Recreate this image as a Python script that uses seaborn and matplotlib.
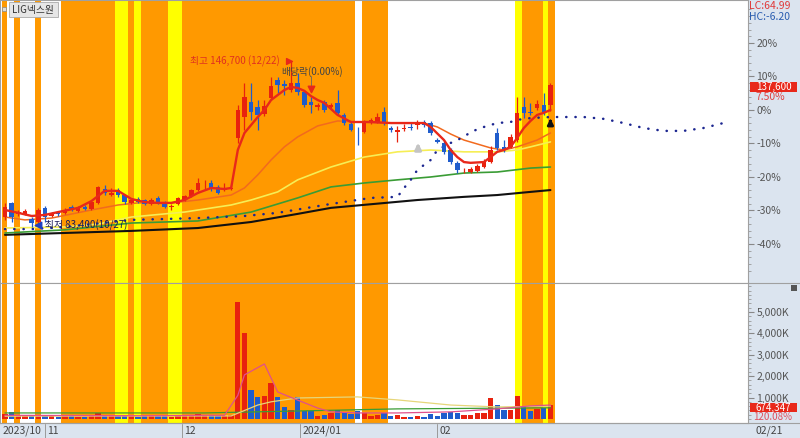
import numpy as np
import pandas as pd
import matplotlib
matplotlib.use("Agg")
import matplotlib.pyplot as plt
import seaborn as sns
from matplotlib.patches import Rectangle
from matplotlib.lines import Line2D
from matplotlib.transforms import blended_transform_factory

sns.set_style("white")
plt.rcParams["font.family"] = ["Noto Sans CJK KR", "DejaVu Sans"]
plt.rcParams["axes.unicode_minus"] = False

# daily candles, LIG넥스원 2023/10 ~ 2024/02/21
opens = [87100, 92500, 88300, 88300, 86400, 85200, 90600, 87500, 88700, 88700,
         90900, 89400, 90900, 90200, 92500, 97800, 95500, 97400, 95500, 92500,
         94000, 93600, 92100, 94400, 92800, 91100, 92100, 93600, 95100, 97400,
         99200, 100100, 98600, 97400, 97800, 117300, 125300, 131000, 129100, 126500,
         132600, 139500, 137900, 135600, 138300, 134900, 131000, 129100, 131000, 129100,
         130700, 126100, 122700, 120500, 119600, 123000, 123400, 127200, 121100, 119600,
         120900, 121500, 122300, 123400, 123000, 116500, 115400, 112700, 107800, 104500,
         104300, 104700, 106200, 108100, 119200, 113900, 113900, 116500, 129100, 127200,
         128800, 129900, 129900]
highs = [92500, 92800, 89800, 90200, 87100, 90600, 91300, 89000, 89400, 90600,
         91700, 91300, 91700, 93600, 99000, 99400, 98200, 98200, 95900, 94400,
         94800, 94000, 94400, 95100, 93200, 92100, 94800, 95500, 97800, 102000,
         101300, 101300, 99400, 100100, 99400, 129900, 138300, 138300, 131800, 131800,
         140600, 140600, 139500, 146700, 142100, 135600, 133000, 130700, 131800, 130700,
         135600, 126900, 123400, 121500, 124200, 124900, 126900, 129100, 121900, 121900,
         122700, 123000, 124200, 124200, 123800, 117300, 116200, 113500, 108500, 105800,
         106200, 107400, 109300, 114200, 121100, 116500, 118800, 133000, 133000, 130700,
         131800, 134500, 138300]
lows = [86000, 85200, 87500, 87900, 83400, 84800, 85200, 87100, 87500, 88300,
        89400, 89000, 89800, 89800, 92100, 95500, 95100, 94800, 92100, 92100,
        92500, 91700, 91700, 92100, 90600, 89800, 91700, 93200, 94800, 97100,
        97800, 97100, 95900, 97100, 97400, 115400, 120400, 124200, 120400, 125700,
        131800, 134500, 133700, 134900, 133700, 129100, 126900, 128000, 127200, 128800,
        126100, 122300, 120000, 114600, 119200, 122700, 123000, 122300, 119600, 115800,
        120000, 120400, 120700, 121500, 118500, 115400, 111200, 107400, 104000, 104000,
        104000, 104300, 105800, 107800, 112700, 112000, 113500, 115800, 124900, 126100,
        128000, 126100, 127600]
closes = [90900, 87100, 89000, 89400, 84800, 89800, 87100, 88300, 88100, 89800,
          89800, 90600, 90200, 92800, 98600, 96300, 96300, 95500, 92800, 93600,
          92800, 92100, 93600, 92500, 90900, 91300, 94400, 95100, 97400, 100100,
          99400, 97800, 96300, 97800, 98200, 128000, 133000, 127200, 126100, 129500,
          137200, 137600, 137200, 138300, 134900, 129900, 129900, 129900, 128000, 129900,
          126900, 123000, 120400, 120200, 123400, 124200, 125300, 123000, 120400, 120400,
          121100, 121100, 123400, 122300, 119200, 115800, 112000, 108100, 105100, 104700,
          105500, 106600, 108100, 112700, 113500, 112700, 117700, 126900, 126900, 127000,
          130300, 127200, 137600]
# volume, thousand shares
volumes = [250, 330, 150, 120, 180, 200, 160, 120, 110, 130,
           120, 100, 110, 170, 260, 200, 150, 140, 160, 120,
           110, 130, 140, 120, 150, 100, 160, 170, 190, 230,
           150, 170, 140, 120, 180, 5470, 4020, 1350, 1030, 1075,
           1680, 1030, 560, 420, 1030, 375, 375, 150, 200, 300,
           420, 300, 250, 350, 260, 150, 200, 280, 120, 180,
           100, 90, 150, 110, 220, 160, 280, 310, 260, 180,
           200, 260, 300, 980, 650, 400, 420, 1080, 620, 380,
           460, 520, 674.347]

# moving average / indicator lines (candle index, price)
ma_red_idx = [0, 2, 4, 6, 8, 11, 13, 15, 17, 19, 21, 23, 25, 27, 29, 31, 33, 34, 35, 36,
              38, 39, 40, 41, 42, 43, 44, 45, 46, 47, 48, 50, 52, 55, 58, 61, 63, 64, 66, 67,
              68, 69, 70, 72, 73, 74, 75, 76, 77, 78, 79, 80, 81, 82]
ma_red_val = [89800, 88700, 87500, 87900, 89000, 90600, 93200, 97100, 97100, 94000,
              92800, 92500, 92500, 93600, 96300, 98200, 97800, 98200, 112700, 119200,
              125300, 128000, 131800, 133700, 135600, 136800, 136400, 135300, 133300, 131800,
              130700, 126100, 123400, 123400, 123000, 123000, 123000, 121500, 116500, 112700,
              110000, 108100, 107800, 108100, 110000, 112000, 112700, 113900, 117300, 121100,
              123800, 126100, 126900, 128000]
ma_orange_idx = [0, 3, 7, 13, 17, 20, 25, 29, 34, 36, 38, 40, 42, 44, 47, 50, 53, 57, 63, 65,
                 67, 69, 71, 73, 75, 77, 80, 82]
ma_orange_val = [87100, 86000, 86700, 89800, 91700, 92500, 92500, 93600, 95500, 98200,
                 103200, 108900, 113900, 117700, 121900, 123800, 123400, 123000, 123000, 121500,
                 118800, 116500, 115000, 113500, 112700, 113900, 116500, 119200]
ma_yellow_idx = [0, 9, 14, 19, 27, 34, 37, 41, 44, 49, 54, 59, 64, 69, 74, 77, 79, 82]
ma_yellow_val = [82900, 83300, 84400, 87100, 89000, 91700, 93600, 96700, 101300, 106200,
                 110000, 112000, 112700, 112000, 112000, 112700, 113900, 115800]
ma_green_idx = [0, 9, 19, 29, 37, 44, 49, 54, 59, 64, 69, 74, 79, 82]
ma_green_val = [81000, 82200, 84800, 85600, 89000, 94400, 98600, 100100, 101300, 102400,
                103900, 104300, 105800, 106200]
ma_black_idx = [0, 19, 29, 37, 44, 49, 62, 69, 74, 79, 82]
ma_black_val = [80300, 81800, 82900, 85200, 88300, 90600, 93600, 94800, 95500, 96700, 97400]
dots_idx = [0, 4, 9, 19, 29, 36, 41, 49, 55, 59, 60, 61, 62, 64, 65, 67, 69, 70, 72, 74,
            76, 77, 79, 82, 84, 87, 90, 93, 96, 99, 102, 105, 108]
dots_val = [82500, 82500, 83300, 86000, 86700, 87500, 88700, 92100, 94400, 94800,
            98200, 101300, 105100, 108900, 112700, 115400, 117700, 119600, 121500, 123000,
            123400, 124200, 124900, 125300, 125300, 125300, 124600, 123000, 121100, 120000,
            120000, 121100, 123000]

# volume averages (candle index, thousand shares)
vma_pink_idx = [0, 10, 20, 30, 33, 35, 36, 39, 41, 44, 47, 49, 53, 59, 67, 74, 79, 82]
vma_pink_val = [170, 160, 150, 170, 170, 1100, 2060, 2570, 1260, 880, 510, 330, 280, 280,
                330, 470, 610, 650]
vma_yellow_idx = [0, 34, 38, 40, 44, 53, 59, 67, 74, 82]
vma_yellow_val = [130, 140, 650, 800, 980, 1030, 890, 650, 560, 600]
vma_green_idx = [0, 30, 59, 82]
vma_green_val = [280, 280, 470, 520]

# highlighted signal periods (candle index span, kind)
bands = [(-0.5, 0.3, "o"), (1.4, 2.3, "o"), (4.5, 5.4, "o"), (8.4, 16.5, "o"),
         (16.5, 18.5, "y"), (18.5, 19.4, "o"), (19.4, 20.5, "y"), (20.5, 24.5, "o"),
         (24.5, 26.6, "y"), (26.6, 52.6, "o"), (53.7, 57.6, "o"), (76.7, 77.7, "y"),
         (77.7, 80.9, "o"), (80.9, 81.6, "y"), (81.6, 82.7, "o")]

month_labels = ["2023/10", "11", "12", "2024/01", "02"]
month_pos = [-0.75, 6.0, 26.6, 44.4, 65.0]
pct_ticks = [20, 10, 0, -10, -20, -30, -40]
vol_ticks = [1000, 2000, 3000, 4000, 5000]
base_price = 128000

RED = "#e8220e"
BLUE = "#1f5ccc"
GRID = "#a0a0a0"

W, H = 800, 438


def fx(p):
    return p / W


def fy(p):
    return 1 - p / H


fig = plt.figure(figsize=(8, 4.38), dpi=100)
fig.patch.set_facecolor("#dbe4ef")
ax = fig.add_axes([0, fy(283), fx(748), 283 / H])
axv = fig.add_axes([0, fy(423), fx(748), 140 / H])

band_colors = {"o": "#ff9900", "y": "#ffff00"}
for a in (ax, axv):
    a.set_facecolor("white")
    for s, e, k in bands:
        a.axvspan(s, e, color=band_colors[k], lw=0, zorder=0)

x = np.arange(len(closes))
o = np.array(opens)
c = np.array(closes)
up = c >= o
cols = np.where(up, RED, BLUE)

# indicator lines
sns.lineplot(x=ma_black_idx, y=ma_black_val, ax=ax, color="#111111", lw=1.5, zorder=2)
sns.lineplot(x=ma_green_idx, y=ma_green_val, ax=ax, color="#3a9c35", lw=1.2, zorder=2)
sns.lineplot(x=ma_yellow_idx, y=ma_yellow_val, ax=ax, color="#f6ee55", lw=1.2, zorder=2)
sns.lineplot(x=ma_orange_idx, y=ma_orange_val, ax=ax, color="#f26a1e", lw=1.1, zorder=2)
ax.plot(dots_idx, dots_val, color="#1c2690", lw=1.8, linestyle=(0, (0.1, 3.6)),
        dash_capstyle="round", zorder=2)

# candles
ax.vlines(x, lows, highs, colors=cols, lw=0.9, zorder=4)
ax.bar(x, np.maximum(np.abs(c - o), 300), bottom=np.minimum(o, c), width=0.68,
       color=cols, linewidth=0, zorder=5)
sns.lineplot(x=ma_red_idx, y=ma_red_val, ax=ax, color="#e8281a", lw=1.7, zorder=6)

# annotations
ax.text(41.3, 146700, "최고 146,700 (12/22)", color="#e03020", fontsize=7,
        ha="right", va="center", zorder=7)
ax.scatter([42.7], [146700], marker=">", s=18, color="#e8281a", zorder=7)
ax.text(41.5, 142600, "배당락(0.00%)", color="#444444", fontsize=7, ha="left",
        va="center", zorder=7)
ax.plot([46, 46], [140800, 136600], color="#666666", lw=0.6, zorder=7)
ax.scatter([46], [136000], marker="v", s=22, color="#e8281a", zorder=7)
ax.scatter([5.0], [84100], marker="<", s=22, color="#2040c0", zorder=7)
ax.text(6.0, 84100, "최저 83,400(10/27)", color="#1a1a5a", fontsize=7, ha="left",
        va="center", zorder=7)
ax.annotate("", xy=(62.1, 116500), xytext=(62.1, 112500),
            arrowprops=dict(arrowstyle="-|>", color="#c4c4c4", lw=2.2, mutation_scale=9),
            zorder=7)
ax.annotate("", xy=(82, 125800), xytext=(82, 122200),
            arrowprops=dict(arrowstyle="-|>", color="#111111", lw=2.0, mutation_scale=8),
            zorder=7)

ax.set_ylim(61900, 170000)
ax.yaxis.tick_right()
ax.set_yticks([base_price * (1 + p / 100) for p in pct_ticks])
ax.set_yticklabels([f"{p}%" for p in pct_ticks])
ax.set_yticks([base_price * (1 + k / 100) for k in range(-48, 32, 2)], minor=True)

# volume
vol_df = pd.DataFrame({"idx": x, "vol": volumes, "dir": np.where(up, "up", "down")})
sns.barplot(data=vol_df, x="idx", y="vol", hue="dir", palette={"up": RED, "down": BLUE},
            native_scale=True, dodge=False, width=0.8, errorbar=None, saturation=1,
            legend=False, ax=axv, zorder=3, linewidth=0)
sns.lineplot(x=vma_green_idx, y=vma_green_val, ax=axv, color="#3a9c35", lw=0.9, zorder=4)
sns.lineplot(x=vma_yellow_idx, y=vma_yellow_val, ax=axv, color="#e6d67a", lw=0.9, zorder=4)
sns.lineplot(x=vma_pink_idx, y=vma_pink_val, ax=axv, color="#e0508c", lw=0.9, zorder=4)
axv.set_ylim(-190, 6355)
axv.yaxis.tick_right()
axv.set_yticks(vol_ticks)
axv.set_yticklabels([f"{v:,}K" for v in vol_ticks])
axv.set_yticks(list(range(0, 6400, 200)), minor=True)

for a in (ax, axv):
    a.set_xlim(-0.75, 111.7)
    a.set_xticks([])
    a.set_xticks([], minor=True)
    a.set_xlabel("")
    a.set_ylabel("")
    a.tick_params(axis="y", which="major", length=4, color="#888888", labelsize=7.5,
                  labelcolor="#555555", pad=2, direction="out", right=True)
    a.tick_params(axis="y", which="minor", length=2, color="#999999", right=True)
    for sp in a.spines.values():
        sp.set_color(GRID)
        sp.set_linewidth(0.8)
axv.spines["top"].set_visible(False)

# frame lines across the whole figure
for py in (283, 423):
    fig.add_artist(Line2D([0, 1], [fy(py), fy(py)], color=GRID, lw=0.8,
                          transform=fig.transFigure))

# date strip
trans = blended_transform_factory(axv.transData, fig.transFigure)
for lab, pos in zip(month_labels, month_pos):
    if pos > 0:
        fig.add_artist(Line2D([pos, pos], [fy(438), fy(424)], color="#9a9a9a", lw=0.7,
                              transform=trans))
    axv.text(pos + 0.35, fy(430.5), lab, transform=trans, fontsize=7.5, color="#444444",
             ha="left", va="center", clip_on=False)
fig.text(fx(755), fy(430.5), "02/21", fontsize=7.5, color="#444444", va="center")

# title box
fig.add_artist(Rectangle((fx(9), fy(17)), fx(49), 15 / H, facecolor="#e6e6e6",
                         edgecolor="#aaaaaa", lw=0.6, transform=fig.transFigure))
fig.add_artist(Rectangle((fx(2), fy(11)), fx(4), 4 / H, facecolor="#dddddd",
                         edgecolor="#888888", lw=0.5, transform=fig.transFigure))
fig.text(fx(12), fy(9.5), "LIG넥스원", fontsize=7, color="#333333", va="center")

# right side labels
fig.text(fx(749), fy(6), "LC:64.99", fontsize=7.5, color="#e03a3a", va="center")
fig.text(fx(749), fy(17), "HC:-6.20", fontsize=7.5, color="#2a5db0", va="center")
fig.add_artist(Rectangle((fx(750), fy(92)), fx(47), 10 / H, facecolor="#e8281a",
                         edgecolor="none", transform=fig.transFigure))
fig.text(fx(773.5), fy(87), "137,600", fontsize=7, color="white", ha="center",
         va="center")
fig.text(fx(755), fy(97.5), "7.50%", fontsize=7.5, color="#e04040", va="center")
fig.add_artist(Rectangle((fx(750), fy(412)), fx(47), 9 / H, facecolor="#e8281a",
                         edgecolor="none", transform=fig.transFigure))
fig.text(fx(773.5), fy(407.5), "674,347", fontsize=7, color="white", ha="center",
         va="center")
fig.text(fx(753), fy(416.5), "120.08%", fontsize=7, color="#e05060", va="center")
fig.add_artist(Rectangle((fx(791), fy(291)), fx(6), 6 / H, facecolor="#555555",
                         edgecolor="none", transform=fig.transFigure))

fig.savefig("out.png", dpi=100, facecolor=fig.get_facecolor())
